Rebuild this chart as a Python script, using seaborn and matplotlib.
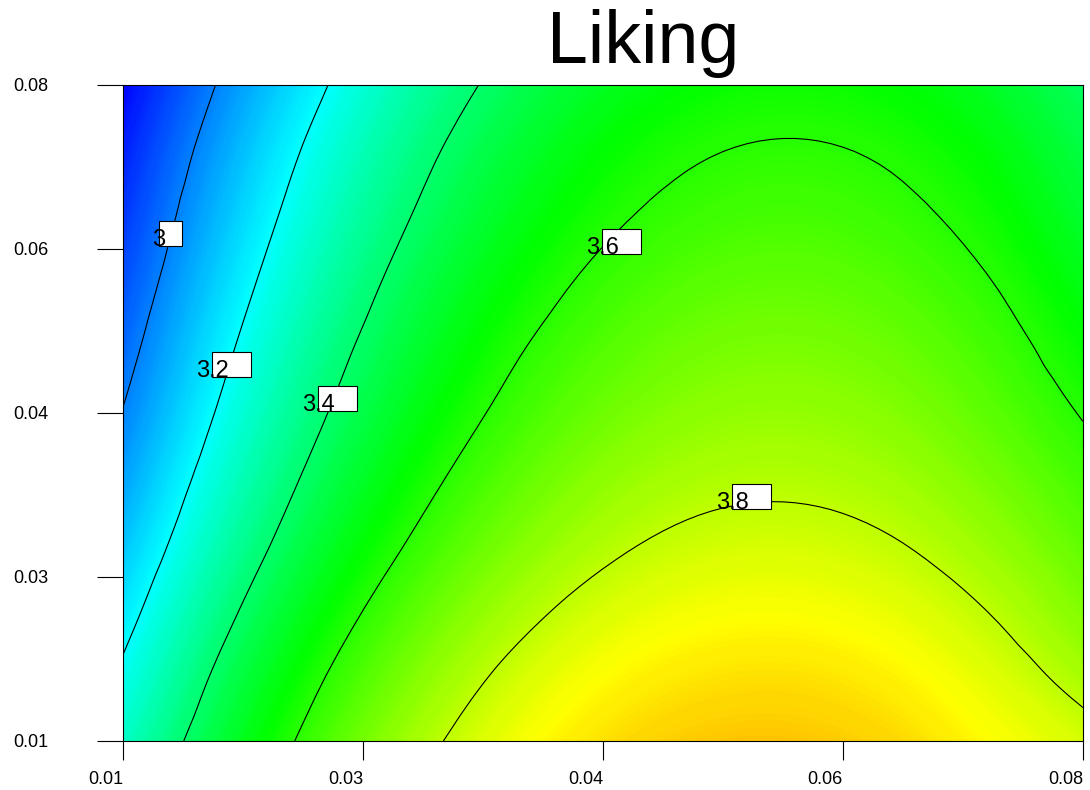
import numpy as np
import matplotlib
matplotlib.use('Agg')
import matplotlib.pyplot as plt
import matplotlib.tri as mtri
from matplotlib.colors import LinearSegmentedColormap, Normalize
from matplotlib.patches import Rectangle
import seaborn as sns

sns.set_theme(style='white')
plt.rcParams['font.family'] = ['Liberation Sans', 'DejaVu Sans']

#^ Data ============================================================================================>
x_vals = [0.010, 0.017, 0.024, 0.031, 0.038, 0.045, 0.052, 0.059, 0.066, 0.073, 0.080]
y_vals = [0.010, 0.017, 0.024, 0.031, 0.038, 0.045, 0.052, 0.059, 0.066, 0.073, 0.080]

# rows go from y = 0.01 (bottom) to y = 0.08 (top), columns follow x_vals
liking = [
    [3.276, 3.469, 3.632, 3.763, 3.862, 3.930, 3.967, 3.972, 3.946, 3.889, 3.830],
    [3.218, 3.418, 3.583, 3.715, 3.816, 3.885, 3.922, 3.929, 3.903, 3.847, 3.770],
    [3.160, 3.362, 3.529, 3.662, 3.763, 3.833, 3.872, 3.879, 3.855, 3.799, 3.718],
    [3.104, 3.305, 3.474, 3.608, 3.710, 3.781, 3.821, 3.829, 3.806, 3.751, 3.675],
    [3.052, 3.255, 3.425, 3.560, 3.663, 3.735, 3.775, 3.784, 3.762, 3.708, 3.635],
    [3.004, 3.209, 3.380, 3.516, 3.620, 3.693, 3.734, 3.744, 3.723, 3.670, 3.595],
    [2.962, 3.169, 3.341, 3.477, 3.583, 3.656, 3.699, 3.710, 3.689, 3.637, 3.558],
    [2.922, 3.129, 3.301, 3.439, 3.545, 3.620, 3.663, 3.675, 3.655, 3.604, 3.523],
    [2.884, 3.090, 3.262, 3.400, 3.507, 3.583, 3.627, 3.640, 3.621, 3.571, 3.490],
    [2.848, 3.052, 3.224, 3.363, 3.471, 3.548, 3.593, 3.607, 3.589, 3.540, 3.460],
    [2.804, 3.007, 3.179, 3.320, 3.429, 3.506, 3.552, 3.567, 3.550, 3.502, 3.423],
]

contour_levels = [3.0, 3.2, 3.4, 3.6, 3.8]
label_text = ['3', '3.2', '3.4', '3.6', '3.8']
label_x = [0.01211, 0.01532, 0.02305, 0.04376, 0.05324]
label_y = [0.06282, 0.04884, 0.04521, 0.06197, 0.03476]

tick_pos = [0.01, 0.0275, 0.045, 0.0625, 0.08]
tick_labels = ['0.01', '0.03', '0.04', '0.06', '0.08']

#^ Plot ============================================================================================>
X, Y = np.meshgrid(x_vals, y_vals)
Z = np.array(liking)

# smooth surface drawing from the grid (matplotlib's own cubic triangulation)
tri = mtri.Triangulation(X.ravel(), Y.ravel())
interp = mtri.CubicTriInterpolator(tri, Z.ravel(), kind='geom')
tri_f, z_f = mtri.UniformTriRefiner(tri).refine_field(Z.ravel(), triinterpolator=interp, subdiv=3)

cmap = LinearSegmentedColormap.from_list(
    'de', [(0.0, '#0000ff'), (0.27, '#00ffff'), (0.51, '#00ff00'), (0.74, '#ffff00'), (1.0, '#ff0000')])
norm = Normalize(vmin=2.80, vmax=4.27)

fig = plt.figure(figsize=(10.9, 7.9), dpi=100)
ax = fig.add_axes([0.11284, 0.06203, 0.88073, 0.83038])

ax.tricontourf(tri_f, z_f, levels=np.linspace(2.77, 4.0, 250), cmap=cmap, norm=norm, antialiased=False)
ax.tricontour(tri_f, z_f, levels=contour_levels, colors='black', linewidths=0.8)

# label boxes (box sits right of the number, like the original)
px_x = 0.07 / 960
px_y = 0.07 / 656
for txt, lx, ly in zip(label_text, label_x, label_y):
    shift = 7 if len(txt) == 1 else 16
    width = 23 if len(txt) == 1 else 39
    ax.add_patch(Rectangle((lx + shift * px_x, ly), width * px_x, 25 * px_y,
                           facecolor='white', edgecolor='black', linewidth=0.8, zorder=3))
    ax.text(lx, ly, txt, fontsize=17, ha='left', va='baseline', color='black', zorder=4)

ax.set_xlim(0.01, 0.08)
ax.set_ylim(0.01, 0.08)
ax.set_xticks(tick_pos)
ax.set_xticklabels(tick_labels, fontsize=13)
ax.set_yticks(tick_pos)
ax.set_yticklabels(tick_labels, fontsize=13)
for lab in ax.get_xticklabels():
    lab.set_horizontalalignment('right')
ax.tick_params(axis='y', which='major', left=True, length=18.7, width=0.8, pad=35, colors='black')
ax.tick_params(axis='x', which='major', bottom=True, length=13.7, width=0.8, pad=8, colors='black')
for sp in ax.spines.values():
    sp.set_visible(True)
    sp.set_color('black')
    sp.set_linewidth(0.8)

fig.text(643 / 1090, 1 - 63 / 790, 'Liking', fontsize=53, ha='center', va='baseline', color='black')

plt.savefig('out.png', dpi=100)
